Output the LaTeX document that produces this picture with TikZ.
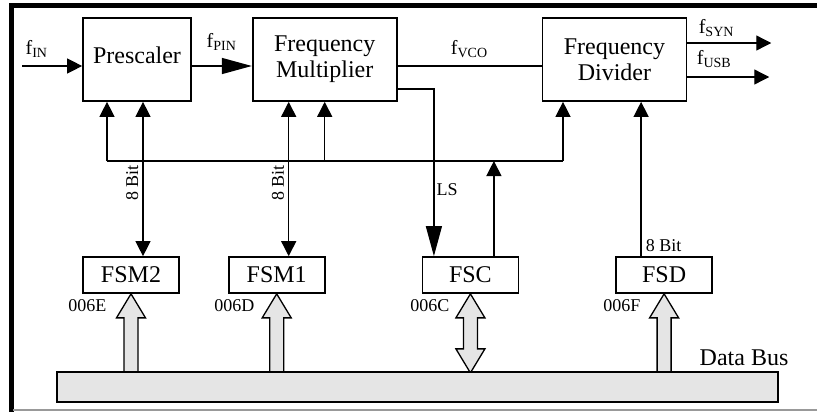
\documentclass[tikz,border=0pt]{standalone}
\usepackage{fontspec}
\setmainfont{Liberation Serif}
\usetikzlibrary{positioning,calc,arrows.meta}
\definecolor{busgray}{gray}{0.9}
\tikzset{
	blockdiag/.style={>={Triangle[length=7.5pt,width=7.5pt]}, line width=0.65pt,
		x=0.5pt, y=-0.5pt, node distance=30pt},
	block/.style={rectangle,draw,line width=0.85pt,minimum width=54pt,minimum height=41.5pt,
		inner sep=0pt,align=center,font=\fontsize{12}{13}\selectfont},
	regbox/.style={rectangle,draw,line width=0.85pt,minimum width=48pt,minimum height=18pt,
		inner sep=0pt,font=\fontsize{12}{13}\selectfont},
	sig/.style={font=\fontsize{10}{10}\selectfont,inner sep=1.5pt},
	addr/.style={font=\fontsize{9}{9}\selectfont,inner sep=0pt},
	bits/.style={font=\fontsize{9}{9}\selectfont,inner sep=2pt},
	widetip/.style={-{Triangle[length=15pt,width=8pt]}},
	busarrow/.style={draw,fill=busgray,line width=0.65pt,line join=miter}
}

\begin{document}
\begin{tikzpicture}[blockdiag]
	\useasboundingbox (0,0) rectangle (817,412);
	
	% frame
	\draw[line width=2.5pt] (9,5.5) -- (817,5.5);
	\draw[line width=2.3pt] (11.5,4) -- (11.5,412);
	\draw[black!40] (13,410) -- (817,410);
	
	\node[block] (pre) at (137,59.5) {\raisebox{4pt}{Prescaler}};
	\node[block, minimum width=72pt] (fm) [right=30pt of pre]
		{\raisebox{3pt}{\begin{tabular}{@{}c@{}}Frequency\\Multiplier\end{tabular}}};
	\node[block, minimum width=72pt] (fd) [right=72pt of fm] {Frequency\\Divider};
	
	\node[regbox] (fsm2) at (131,275) {FSM2};
	\node[regbox] (fsm1) [right=24pt of fsm2] {FSM1};
	\node[regbox] (fsc) [right=48pt of fsm1] {FSC};
	\node[regbox] (fsd) [right=48pt of fsc] {FSD};
	
	\node[addr, anchor=base east] (a2) at (107,311) {006E};
	\node[addr, anchor=base east] (a1) at (255,311) {006D};
	\node[addr, anchor=base east] (ac) at (450,311) {006C};
	\node[addr, anchor=base east] (ad) at (641,311) {006F};
	
	% data bus
	\foreach \n in {fsm2,fsm1,fsd}
		\path[busarrow] ($(\n.south)+(-7,79)$) -- ++(0,-55) -- ++(-7.5,0) -- (\n.south)
			-- ++(14.5,24) -- ++(-7.5,0) -- ++(0,55);
	\path[busarrow] (fsc.south) -- ++(14.5,24) -- ++(-7.5,0) -- ++(0,31) -- ++(7.5,0)
		-- ++(-14.5,24) -- ++(-14.5,-24) -- ++(7.5,0) -- ++(0,-31) -- ++(-7.5,0) -- cycle;
	\node[draw, fill=busgray, line width=1pt, minimum width=360.5pt, minimum height=15pt,
		inner sep=0pt] (bus) at (417.5,387) {};
	\node[font=\fontsize{12}{13}\selectfont, anchor=base east, inner sep=0pt] (dbl)
		at (789,365) {Data Bus};
	
	% signals
	\coordinate (fin) at (22,66);
	\draw[->] (fin) -- (fin -| pre.west)
		node[sig, pos=0, anchor=south west, yshift=2.5pt] {f\textsubscript{IN}};
	\draw[widetip] (pre.east |- fin) -- (fm.west |- fin)
		node[sig, midway, above=6pt] {f\textsubscript{PIN}};
	\draw ([yshift=-3.25pt]fm.east) -- ([yshift=-3.25pt]fd.west)
		node[sig, midway, above=2.5pt] {f\textsubscript{VCO}};
	\draw[->] ([yshift=8.25pt]fd.east) -- ++(84,0)
		node[sig, pos=.35, above=1.5pt] {f\textsubscript{SYN}};
	\draw[->] ([yshift=-8.75pt]fd.east) -- ++(82,0)
		node[sig, pos=.33, above=3pt] {f\textsubscript{USB}};
	\draw[widetip] ([yshift=-14.75pt]fm.east) -| ([xshift=-18.25pt]fsc.north)
		node[bits, pos=.8, right, inner sep=1pt] {LS};
	
	% control lines
	\coordinate (cl) at (107,161);
	\coordinate (cr) at (563,161);
	\draw[->] (cl) -- (cl |- pre.south);
	\draw (cl) -- (cr);
	\draw[->] (cr) -- (cr |- fd.south);
	\draw[->] (fm.south |- cl) -- (fm.south);
	\draw[->] ([xshift=11.75pt]fsc.north) -- ([xshift=11.75pt]fsc.north |- cl);
	
	% 8 bit lines
	\draw[<->] ([xshift=3pt]pre.south) -- ([xshift=3pt]pre.south |- fsm2.north)
		node[bits, pos=.57, above=3.5pt, rotate=90] {8 Bit};
	\draw[<->] ([xshift=-18pt]fm.south) -- ([xshift=-18pt]fm.south |- fsm1.north)
		node[bits, pos=.57, above=3.5pt, rotate=90] {8 Bit};
	\draw[->] ([xshift=-11.5pt]fsd.north) -- ([xshift=-11.5pt]fsd.north |- fd.south)
		node[bits, pos=0, anchor=south west] {8 Bit};
	
\end{tikzpicture}
\end{document}
